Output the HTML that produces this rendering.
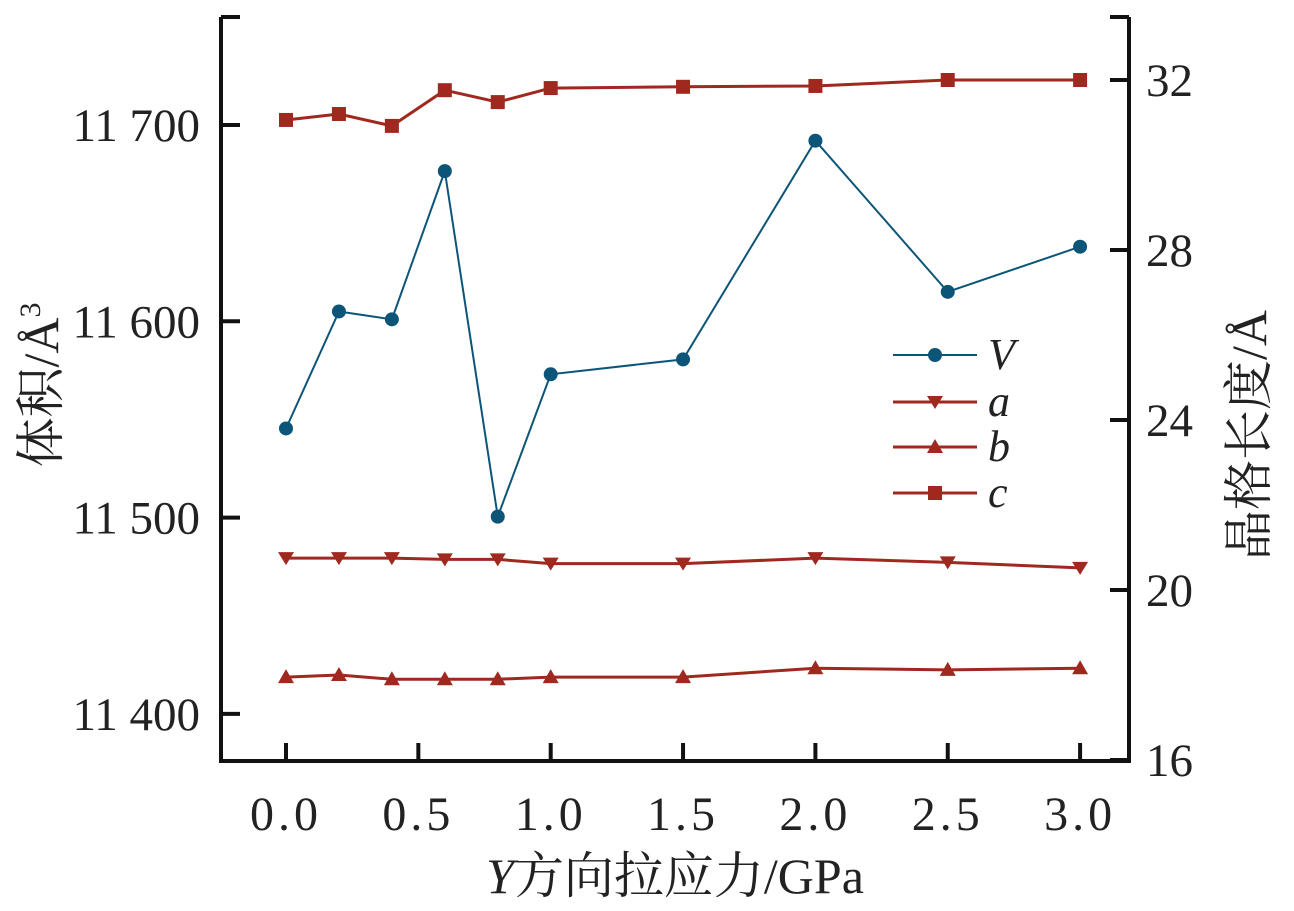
<!DOCTYPE html>
<html><head><meta charset="utf-8"><style>
body{margin:0;background:#fff}
svg text{font-family:"Liberation Serif","Noto Serif CJK SC",serif;fill:#222}
</style></head><body>
<svg id="chart" width="1294" height="906" xmlns="http://www.w3.org/2000/svg">
<g id="axes"></g><g id="series"></g>
<g id="legend"></g>
<text x="675" y="893" font-size="50" text-anchor="middle"><tspan font-style="italic">Y</tspan>方向拉应力/GPa</text>
<text transform="translate(58,385) rotate(-90)" font-size="50" text-anchor="middle">体积/Å<tspan font-size="30" dy="-18">3</tspan></text>
<text transform="translate(1266,435) rotate(-90)" font-size="50" text-anchor="middle">晶格长度/Å</text>
</svg>
<script>
const xs=[0,0.2,0.4,0.6,0.8,1.0,1.5,2.0,2.5,3.0];
const vVals=[11545.4,11605,11601,11676.5,11500.5,11573,11580.6,11692,11615,11638];
const aVals=[20.75,20.75,20.75,20.72,20.72,20.62,20.62,20.75,20.65,20.52];
const bVals=[17.95,18.0,17.9,17.9,17.9,17.95,17.95,18.16,18.12,18.16];
const cVals=[31.06,31.2,30.92,31.76,31.48,31.81,31.84,31.86,32.0,32.0];
const xTicks=[0,0.5,1.0,1.5,2.0,2.5,3.0];
const xTickLabels=["0.0","0.5","1.0","1.5","2.0","2.5","3.0"];
const leftTicks=[11400,11500,11600,11700];
const leftTickLabels=["11 400","11 500","11 600","11 700"];
const rightTicks=[16,20,24,28,32];
const NS="http://www.w3.org/2000/svg";
const X=v=>286+v*264.7;
const YL=v=>125+(11700-v)*1.963;
const YR=v=>80+(32-v)*42.5;
function mk(tag,attrs,parent){const e=document.createElementNS(NS,tag);for(const k in attrs)e.setAttribute(k,attrs[k]);parent.appendChild(e);return e;}
const ax=document.getElementById('axes');
let e;
e=mk('path',{d:'M221,17 L221,761 L1129,761 L1129,17',fill:'none',stroke:'#111','stroke-width':4},ax);


e=mk('line',{x1:221,y1:17,x2:240,y2:17,stroke:'#111','stroke-width':4},ax);


e=mk('line',{x1:1110,y1:17,x2:1129,y2:17,stroke:'#111','stroke-width':4},ax);


xTicks.forEach((t,i)=>{
 e=mk('line',{x1:X(t),y1:761,x2:X(t),y2:743,stroke:'#111','stroke-width':4},ax);
 
 
 e=mk('text',{x:X(t),y:830,'font-size':48,'letter-spacing':4,'text-anchor':'middle'},ax);e.textContent=xTickLabels[i];
 
 
});
leftTicks.forEach((t,i)=>{
 e=mk('line',{x1:221,y1:YL(t),x2:240,y2:YL(t),stroke:'#111','stroke-width':4},ax);
 
 
 e=mk('text',{x:200,y:YL(t)+16,'font-size':47,'text-anchor':'end'},ax);e.textContent=leftTickLabels[i];
 
 
});
rightTicks.forEach(t=>{
 e=mk('line',{x1:1110,y1:YR(t),x2:1129,y2:YR(t),stroke:'#111','stroke-width':4},ax);
 
 
 e=mk('text',{x:1146,y:YR(t)+16,'font-size':47,'text-anchor':'start'},ax);e.textContent=String(t);
 
 
});
const BLUE='#0d5578',RED='#a0291f';
function marker(type,x,y,col,g){
 if(type==='circle')return mk('circle',{cx:x,cy:y,r:7,fill:col},g);
 if(type==='square')return mk('rect',{x:x-7,y:y-7,width:14,height:14,fill:col},g);
 if(type==='down')return mk('polygon',{points:`${x-8},${y-6} ${x+8},${y-6} ${x},${y+7}`,fill:col},g);
 return mk('polygon',{points:`${x-8},${y+6} ${x+8},${y+6} ${x},${y-8}`,fill:col},g);
}
const ser=document.getElementById('series');
const defs=[['v',vVals,YL,BLUE,'circle',2],['a',aVals,YR,RED,'down',3],['b',bVals,YR,RED,'up',3],['c',cVals,YR,RED,'square',3]];
defs.forEach(([n,vals,Y,col,m,w])=>{
 const g=mk('g',{},ser);
 
 
 e=mk('polyline',{points:vals.map((v,i)=>X(xs[i])+','+Y(v)).join(' '),fill:'none',stroke:col,'stroke-width':w},g);
 
 
 vals.forEach((v,i)=>{e=marker(m,X(xs[i]),Y(v),col,g);
  
  });
});
const lg=document.getElementById('legend');
[['V',355,BLUE,'circle',2],['a',402,RED,'down',3],['b',447,RED,'up',3],['c',493,RED,'square',3]].forEach(([n,y,col,m,w])=>{
 const g=mk('g',{},lg);
 
 
 mk('line',{x1:893,y1:y,x2:977,y2:y,stroke:col,'stroke-width':w},g);
 marker(m,935,y,col,g);
 e=mk('text',{x:988,y:y+14,'font-size':44,'font-style':'italic'},g);e.textContent=n;
});
</script>
</body></html>
